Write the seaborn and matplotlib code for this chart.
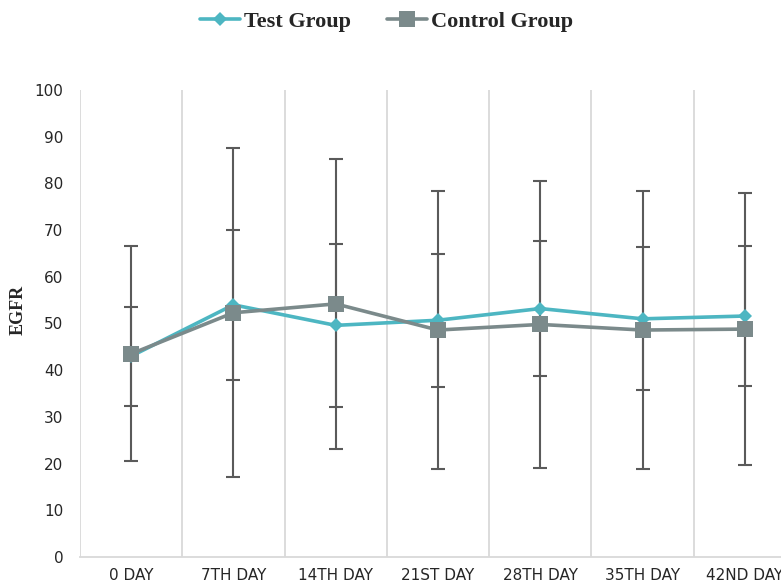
import matplotlib
matplotlib.use("Agg")
import matplotlib.pyplot as plt
from matplotlib.lines import Line2D
import seaborn as sns
import pandas as pd
import numpy as np

# Days of follow-up
days = ["0 DAY", "7TH DAY", "14TH DAY", "21ST DAY", "28TH DAY", "35TH DAY", "42ND DAY"]

# Mean eGFR and standard deviation per group
test_mean = [43.0, 54.0, 49.6, 50.7, 53.2, 51.0, 51.6]
test_sd = [10.6, 16.0, 17.5, 14.2, 14.5, 15.3, 15.0]
control_mean = [43.5, 52.3, 54.2, 48.6, 49.8, 48.6, 48.8]
control_sd = [23.0, 35.2, 31.0, 29.7, 30.7, 29.8, 29.1]

y_ticks = list(range(0, 101, 10))

TEST_COLOR = "#4DB6C2"
CONTROL_COLOR = "#7B8A8B"
ERR_COLOR = "#5A5A5A"
GRID_COLOR = "#D9D9D9"

sns.set_theme(style="white")
plt.rcParams["font.family"] = ["DejaVu Sans"]

df = pd.DataFrame({
    "day": days * 2,
    "x": list(range(len(days))) * 2,
    "egfr": test_mean + control_mean,
    "group": ["Test Group"] * len(days) + ["Control Group"] * len(days),
})

fig = plt.figure(figsize=(7.81, 5.85), dpi=100)
ax = fig.add_axes([80 / 781, 1 - 557 / 585, (796 - 80) / 781, (557 - 90) / 585])

# Vertical separators between day categories
for b in np.arange(-0.5, len(days) + 0.5, 1.0):
    ax.axvline(b, color=GRID_COLOR, lw=1.3, zorder=0)

x = np.arange(len(days))
ax.errorbar(x, control_mean, yerr=control_sd, fmt="none", ecolor=ERR_COLOR,
            elinewidth=1.5, capsize=5, capthick=1.5, zorder=2)
ax.errorbar(x, test_mean, yerr=test_sd, fmt="none", ecolor=ERR_COLOR,
            elinewidth=1.5, capsize=5, capthick=1.5, zorder=2)

sns.lineplot(data=df, x="x", y="egfr", hue="group", style="group",
             hue_order=["Test Group", "Control Group"],
             palette={"Test Group": TEST_COLOR, "Control Group": CONTROL_COLOR},
             markers={"Test Group": "D", "Control Group": "s"},
             dashes=False, linewidth=2.6, markersize=9, markeredgewidth=0,
             ax=ax, zorder=3, legend=False)
# Marker sizes per group
for line in ax.lines:
    if line.get_marker() == "s":
        line.set_markersize(11)
    elif line.get_marker() == "D":
        line.set_markersize(7.5)

ax.set_xlim(-0.5, len(days) - 0.5)
ax.set_ylim(0, 100)
ax.set_yticks(y_ticks)
ax.set_yticklabels([str(v) for v in y_ticks], fontsize=11, color="#262626")
ax.set_xticks(x)
ax.set_xticklabels(days, fontsize=11, color="#262626")
ax.tick_params(axis="x", length=0, pad=8)
ax.tick_params(axis="y", length=0, pad=12)
for s in ["top", "right", "left"]:
    ax.spines[s].set_visible(False)
ax.spines["bottom"].set_color(GRID_COLOR)
ax.spines["bottom"].set_linewidth(1.3)
ax.set_xlabel("")
ax.set_ylabel("EGFR", fontsize=13, fontweight="bold", family="Liberation Serif")
ax.yaxis.set_label_coords((27 - 80) / 716, 0.53)

handles = [
    Line2D([], [], color=TEST_COLOR, lw=2.6, marker="D", markersize=7.5, markeredgewidth=0),
    Line2D([], [], color=CONTROL_COLOR, lw=2.6, marker="s", markersize=11, markeredgewidth=0),
]
fig.legend(handles, ["Test Group", "Control Group"], loc="center",
           bbox_to_anchor=(0.495, 1 - 22 / 585), ncol=2, frameon=False,
           prop={"family": "Liberation Serif", "weight": "bold", "size": 16},
           handlelength=1.8, handletextpad=0.2, columnspacing=1.6)

fig.savefig("out.png", dpi=100)
